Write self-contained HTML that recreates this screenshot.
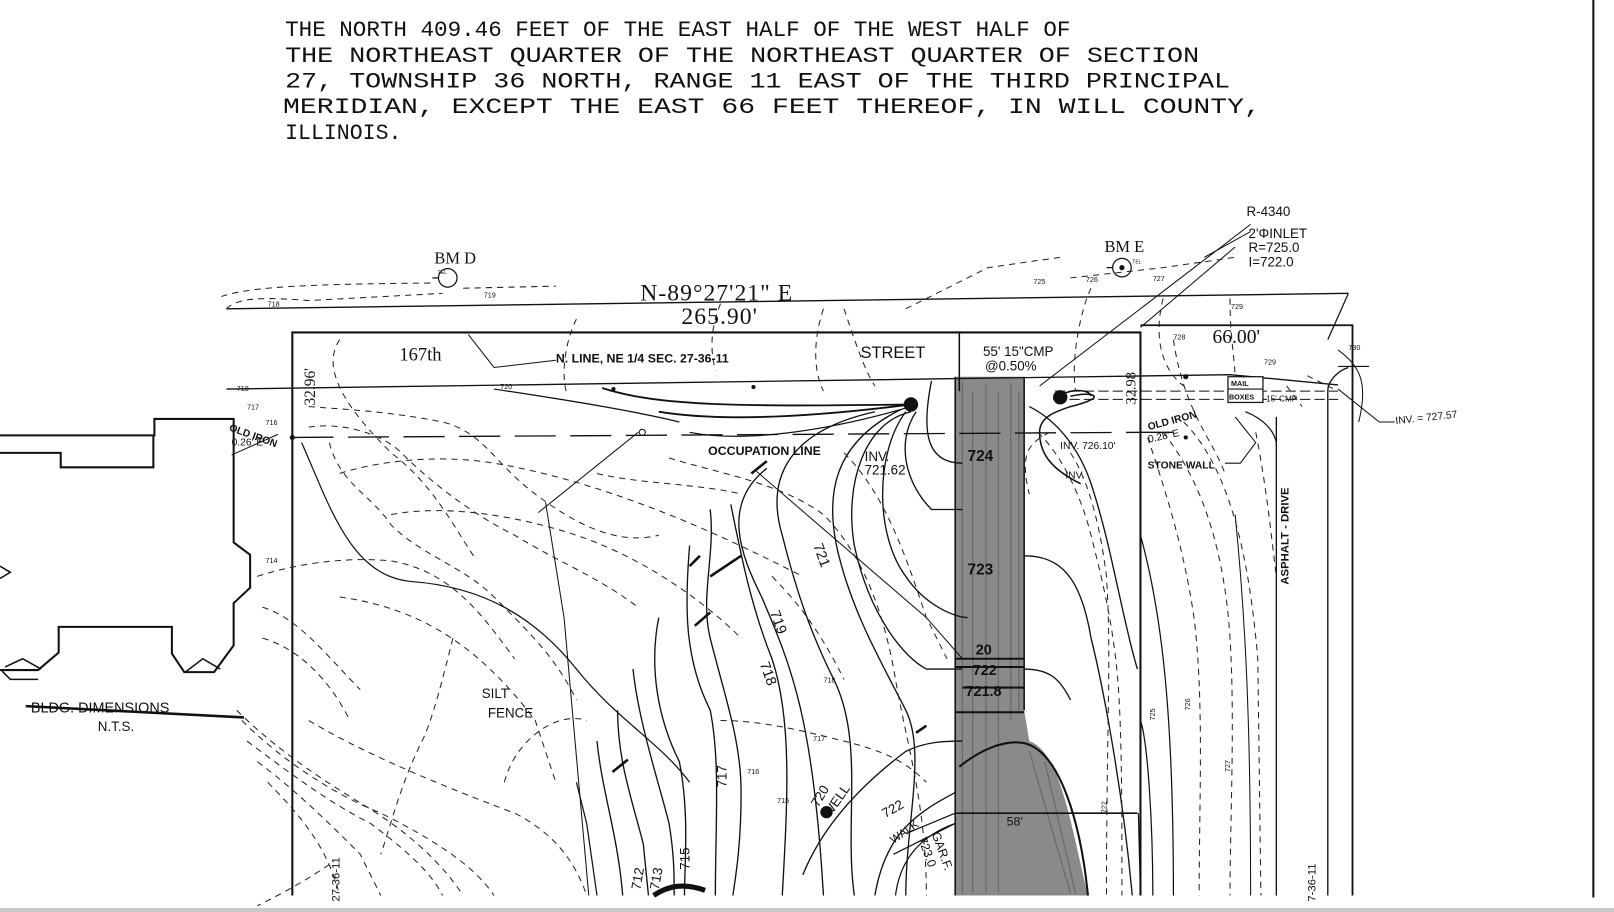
<!DOCTYPE html>
<html><head><meta charset="utf-8"><style>
html,body{margin:0;padding:0;background:#fff;}
svg{display:block;}
.t{font-family:"Liberation Serif",serif;fill:#111;}
.m{font-family:"Liberation Mono",monospace;fill:#111;}
.s{font-family:"Liberation Sans",sans-serif;fill:#111;}
.h{font-family:"Liberation Sans",sans-serif;fill:#111;font-weight:normal;}
</style></head><body>
<svg width="1614" height="912" viewBox="0 0 1614 912" xmlns="http://www.w3.org/2000/svg">
<rect x="0" y="0" width="1614" height="912" fill="#fff"/>
<rect x="0" y="908" width="1614" height="4" fill="#c8c8c8"/>
<g transform="scale(1.0293)">
<!-- title text -->
<g class="m" font-size="22">
<text x="277" y="35" textLength="763" lengthAdjust="spacingAndGlyphs">THE NORTH 409.46 FEET OF THE EAST HALF OF THE WEST HALF OF</text>
<text x="277" y="60" textLength="888" lengthAdjust="spacingAndGlyphs">THE NORTHEAST QUARTER OF THE NORTHEAST QUARTER OF SECTION</text>
<text x="277" y="85" textLength="918" lengthAdjust="spacingAndGlyphs">27, TOWNSHIP 36 NORTH, RANGE 11 EAST OF THE THIRD PRINCIPAL</text>
<text x="275" y="110" textLength="950" lengthAdjust="spacingAndGlyphs">MERIDIAN, EXCEPT THE EAST 66 FEET THEREOF, IN WILL COUNTY,</text>
<text x="277" y="135" textLength="113" lengthAdjust="spacingAndGlyphs">ILLINOIS.</text>
</g>
<line x1="1548" y1="0" x2="1548" y2="872" stroke="#111" stroke-width="2"/>

<path d="M928 366 L995 366 L995 690 L1000 720 C1030 730 1040 800 1057 870 L928 870 Z" fill="#8a8a8a"/>
<path d="M935 370 V868 M945 380 V868 M958 372 V868 M970 380 V868 M982 372 V700 M990 380 V690 M1000 730 L1040 868 M1015 740 L1045 868" stroke="#555" stroke-width="1.2" opacity="0.6"/>
<path d="M928 366 V870 M995 366 V690" stroke="#111" stroke-width="1.5" fill="none"/>
<path d="M932 745 C950 730 975 718 995 722 C1030 730 1050 800 1057 870" stroke="#111" stroke-width="2" fill="none"/>
<path d="M928 640 H995 M928 648 H995 M928 692 H995 M935 668 H995" stroke="#111" stroke-width="2"/>

<g stroke="#111" fill="none">
<path d="M284 870 V323 H1108 V870" stroke-width="2"/>
<path d="M1108 316 H1314 V870" stroke-width="1.8"/>
<path d="M220 300 L1310 285" stroke-width="1.3"/>
<path d="M220 378 L1195 364 M1195 364 L1300 374" stroke-width="1.3"/>
<path d="M1300 356 L1330 356 M1310 285 L1290 330" stroke-width="1.2"/>
<path d="M284 425 L1110 420" stroke-width="1.3" stroke-dasharray="40 14"/>
<path d="M1108 420 L1140 420" stroke-width="1.3"/>
<path d="M1025 380 H1300 M1025 388 H1300" stroke-width="1" stroke-dasharray="10 4"/>
<path d="M932 322 V380" stroke-width="1.5"/>
<path d="M928 790 H1105" stroke-width="1.6"/>
<path d="M1010 375 L1215 218" stroke-width="1"/>
<path d="M1108 318 L1200 240" stroke-width="1"/>
<path d="M735 458 L900 600 L935 640" stroke-width="1"/>
<path d="M530 488 L548 600 L572 870" stroke-width="1"/>
<path d="M523 498 L620 420" stroke-width="1"/>
<path d="M455 325 L480 357 L540 350" stroke-width="1"/>
<path d="M0 423 H150 V407 H227 V527 L243 539 V571 L227 586 V627 L208 653 H179 L167 635 V609 H57 V634 L37 651 H0" stroke-width="2"/>
<path d="M0 440 H59 V454 H149 V423" stroke-width="2"/>
<path d="M180 653 L197 640 L214 650 M5 648 L22 640 L40 650 M2 652 L10 660 L37 660" stroke-width="1.5"/>
<path d="M0 550 L10 556 L0 562" stroke-width="1.5"/>
<path d="M225 442 L270 422" stroke-width="1"/>
<path d="M25 686 L237 697" stroke-width="2.5"/>

<path d="M293 430 C320 490 340 560 400 565 C470 570 520 600 560 650 C600 700 640 720 670 760" stroke-width="1.2"/>
<path d="M585 377 C640 395 720 395 885 393" stroke-width="1.8"/>
<path d="M640 400 C700 410 790 405 885 393" stroke-width="1.8"/>
<path d="M670 420 C720 430 800 420 885 395" stroke-width="1.2"/>
<path d="M480 378 C560 390 620 400 660 410" stroke-width="1.2"/>
<path d="M850 400 C760 420 745 470 760 520 C775 580 790 620 810 660 C840 720 820 800 830 870" stroke-width="1.3"/>
<path d="M875 398 C810 430 800 480 815 540 C830 600 860 650 880 690 C900 730 880 800 880 870" stroke-width="1.3"/>
<path d="M880 400 C850 440 850 520 880 560 C900 590 930 600 940 600" stroke-width="1.3"/>
<path d="M890 400 C870 430 880 470 905 495 L935 495" stroke-width="1.3"/>
<path d="M905 370 C895 420 900 450 935 450" stroke-width="1.3"/>
<path d="M885 400 C840 410 820 470 830 530 C845 600 880 640 900 650 L935 650" stroke-width="1.3"/>
<path d="M745 455 C700 490 720 540 740 580 C770 650 790 700 800 870" stroke-width="1.3"/>
<path d="M710 490 C720 540 730 590 750 640 C770 700 765 780 760 870" stroke-width="1.3"/>
<path d="M690 495 C695 540 680 580 690 620 C705 680 720 720 720 770 C720 820 715 850 712 870" stroke-width="1.3"/>
<path d="M670 530 C665 590 665 640 690 690 C700 740 695 800 695 870" stroke-width="1.3"/>
<path d="M640 600 C630 650 640 700 660 740 C670 790 665 840 665 870" stroke-width="1.3"/>
<path d="M615 650 C620 700 640 760 650 800 C655 830 655 850 655 870" stroke-width="1.3"/>
<path d="M600 690 C600 740 615 780 625 820 L630 870" stroke-width="1.3"/>
<path d="M580 720 C585 770 600 810 605 870" stroke-width="1.3"/>
<path d="M560 760 L570 800 L580 870" stroke-width="1.2"/>
<path d="M780 850 C800 800 840 760 880 730 C900 720 920 720 935 720" stroke-width="1.3"/>
<path d="M850 870 C860 810 890 790 928 770" stroke-width="1.3"/>
<path d="M870 870 C875 830 900 810 928 800" stroke-width="1.2"/>
<path d="M868 830 L928 800 M880 810 L928 790" stroke-width="1.2"/>
<path d="M1000 395 C1030 410 1050 440 1060 470 C1080 530 1090 600 1105 650" stroke-width="1.3"/>
<path d="M995 540 C1030 540 1050 560 1060 620 C1070 660 1090 760 1100 870" stroke-width="1.3"/>
<path d="M995 650 C1020 650 1030 660 1040 680" stroke-width="1.3"/>
<path d="M1040 385 C1060 380 1080 385 1040 395 C1025 400 1010 405 1010 420 C1010 440 1020 455 1050 470" stroke-width="1.5"/>
<path d="M1030 384 C1045 376 1060 380 1060 385" stroke-width="1.5"/>
<path d="M1108 870 L1106 790" stroke-width="1.2"/>
<path d="M1120 870 C1120 800 1115 720 1108 700" stroke-width="1.2"/>
<path d="M1140 870 C1140 700 1130 600 1108 520" stroke-width="1.2"/>
<path d="M1215 870 C1215 700 1210 600 1200 500" stroke-width="1"/>
<path d="M1290 870 V380 C1290 370 1300 360 1310 357" stroke-width="1.3"/>
<path d="M1240 405 V870" stroke-width="1.3"/>
<path d="M1210 400 C1230 408 1238 420 1240 430" stroke-width="1.2"/>
<path d="M1300 340 C1320 355 1330 370 1320 410 M1300 378 L1340 410 L1355 410" stroke-width="1"/>
<path d="M1200 405 L1220 430 L1205 450 L1190 450" stroke-width="1"/>
<path d="M1170 250 L1215 225" stroke-width="1"/>
<path d="M635 870 C650 860 665 858 685 865" stroke-width="5"/>
<path d="M595 750 L610 738 M675 608 L690 595 M670 550 L680 540 M690 560 L720 540 M730 460 L745 448 M890 712 L900 705" stroke-width="2.5"/>
</g>

<g stroke="#222" fill="none" stroke-width="1" stroke-dasharray="6 5">
<path d="M215 288 C240 280 280 276 420 275"/>
<path d="M220 300 C230 290 250 288 300 292 L430 285"/>
<path d="M450 280 L540 278"/>
<path d="M300 395 C340 398 380 400 430 410 C470 420 480 450 520 480 C560 510 600 530 640 520"/>
<path d="M300 415 C330 410 370 420 390 440 C420 470 460 500 500 520 C550 550 580 560 620 590"/>
<path d="M320 430 C330 470 360 480 380 510 C410 540 450 550 480 580 C520 620 540 640 560 680"/>
<path d="M330 330 C310 360 340 400 380 440 C420 470 440 510 460 540"/>
<path d="M250 560 C280 550 330 540 380 545 C440 555 470 600 500 640"/>
<path d="M255 590 C290 600 320 640 350 670"/>
<path d="M255 620 C290 630 320 660 340 700"/>
<path d="M330 580 C400 590 460 620 520 700 L540 760"/>
<path d="M440 620 C430 660 420 700 410 720 C390 760 380 800 370 830"/>
<path d="M230 690 C260 720 300 750 350 780 C400 810 430 840 450 870"/>
<path d="M235 700 C270 735 320 770 370 790 C420 815 460 840 480 870"/>
<path d="M240 720 C280 750 320 780 360 800 C400 830 420 850 430 870"/>
<path d="M250 740 C290 770 320 800 350 830 L370 870"/>
<path d="M260 760 C300 800 320 830 330 870"/>
<path d="M300 700 C350 730 420 760 500 790 C540 810 560 840 570 870"/>
<path d="M320 840 C290 860 270 870 250 880"/>
<path d="M490 760 C500 720 540 690 570 700"/>
<path d="M330 460 C360 450 420 440 480 450 C540 460 600 480 650 500 C700 520 740 540 780 560"/>
<path d="M380 500 C430 490 500 500 560 520 C620 540 680 580 720 620"/>
<path d="M650 445 C700 460 760 470 800 500 C840 540 860 600 870 660 C880 720 900 780 900 870"/>
<path d="M820 440 C860 480 880 540 900 600 L920 640"/>
<path d="M700 700 C740 700 780 710 820 720 C860 730 880 740 900 760"/>
<path d="M750 560 C780 590 800 620 820 660"/>
<path d="M580 460 C620 470 680 470 720 480"/>
<path d="M820 300 C830 330 840 360 850 375"/>
<path d="M880 300 L960 260 L1030 250"/>
<path d="M1040 270 L1130 260 L1200 250"/>
<path d="M1060 280 C1050 300 1040 350 1045 380"/>
<path d="M1130 290 C1120 330 1130 360 1150 375"/>
<path d="M1195 290 C1195 330 1200 350 1200 370"/>
<path d="M1008 420 C1030 440 1050 480 1060 520 C1070 560 1080 600 1085 650 C1090 700 1090 780 1090 870"/>
<path d="M1040 440 C1060 470 1070 520 1075 560 C1080 640 1075 700 1075 870"/>
<path d="M1115 425 C1130 470 1150 530 1160 600 C1170 680 1165 780 1165 870"/>
<path d="M1130 420 C1170 470 1190 540 1195 620 C1200 700 1195 800 1195 870"/>
<path d="M1150 410 C1200 460 1215 560 1222 640 L1225 870"/>
<path d="M1140 330 C1150 400 1180 430 1190 460"/>
<path d="M1220 420 C1230 470 1235 520 1240 560"/>
<path d="M1270 365 L1300 380 M1250 375 L1265 395"/>
<path d="M1020 420 C1000 430 990 440 1000 480"/>
<path d="M800 300 C790 330 790 360 800 380"/>
<path d="M700 295 C690 320 690 340 695 360"/>
<path d="M560 310 C550 330 545 360 550 380"/>
</g>

<g fill="#111">
<circle cx="885" cy="393" r="7"/>
<circle cx="1030" cy="386" r="7"/>
<circle cx="803" cy="789" r="6"/>
<circle cx="732" cy="376" r="2"/>
<circle cx="596" cy="378" r="2"/>
<circle cx="1152" cy="366" r="2.5"/>
<circle cx="1152" cy="425" r="2"/>
<circle cx="284" cy="425" r="2.5"/>
<circle cx="624" cy="420" r="3" fill="none" stroke="#111"/>
</g>
<g stroke="#111" fill="none" stroke-width="1.2">
<circle cx="435" cy="270" r="9"/><path d="M420 270 H426"/>
<circle cx="1090" cy="260" r="9"/><path d="M1075 260 H1081"/>
</g>
<circle cx="1090" cy="260" r="2.5" fill="#111"/>
<rect x="1193" y="366" width="34" height="25" fill="#fff" stroke="#111" stroke-width="1.2"/>
<line x1="1193" y1="378" x2="1227" y2="378" stroke="#111"/>

<g class="t">
<text x="422" y="256" font-size="16">BM D</text>
<text x="1073" y="245" font-size="16">BM E</text>
<text x="622" y="292" font-size="23" letter-spacing="1">N-89°27'21" E</text>
<text x="662" y="315" font-size="23" letter-spacing="1">265.90'</text>
<text x="388" y="350" font-size="18">167th</text>
<text x="1178" y="333" font-size="19">66.00'</text>
<text x="0" y="0" font-size="15" transform="translate(306,394) rotate(-90)">32.96'</text>
<text x="0" y="0" font-size="14" transform="translate(1103,393) rotate(-90)">32.98</text>
</g>
<g class="s">
<text x="425" y="266" font-size="5">TEL</text>
<text x="1100" y="256" font-size="5">TEL</text>
<text x="540" y="352" font-size="12" font-weight="bold">N. LINE, NE 1/4 SEC. 27-36-11</text>
<text x="836" y="348" font-size="16">STREET</text>
<text x="688" y="442" font-size="12" font-weight="bold">OCCUPATION LINE</text>
<text x="0" y="0" font-size="10" font-weight="bold" transform="translate(222,418) rotate(20)">OLD IRON</text>
<text x="225" y="433" font-size="10">0.26' E</text>
<text x="0" y="0" font-size="10" font-weight="bold" transform="translate(1116,418) rotate(-15)">OLD IRON</text>
<text x="0" y="0" font-size="10" transform="translate(1116,430) rotate(-12)">0.28' E</text>
<text x="1115" y="455" font-size="10" font-weight="bold">STONE WALL</text>
<text x="1196" y="375" font-size="7" font-weight="bold">MAIL</text>
<text x="1194" y="388" font-size="7" font-weight="bold">BOXES</text>
<text x="1230" y="390" font-size="8">15' CMP</text>
<text x="0" y="0" font-size="10" transform="translate(1356,412) rotate(-6)">INV. = 727.57</text>
<text x="0" y="0" font-size="11" font-weight="bold" transform="translate(1252,568) rotate(-90)">ASPHALT - DRIVE</text>
<text x="0" y="0" font-size="11" transform="translate(1278,876) rotate(-90)">7-36-11</text>
<text x="0" y="0" font-size="11" transform="translate(330,876) rotate(-90)">27-36-11</text>
<text x="1030" y="436" font-size="10">INV. 726.10'</text>
<text x="1035" y="465" font-size="10">INV.</text>
</g>
<g class="h" font-size="13">
<text x="1211" y="210">R-4340</text>
<text x="1213" y="231">2'ΦINLET</text>
<text x="1213" y="245">R=725.0</text>
<text x="1213" y="259">I=722.0</text>
<text x="955" y="346">55' 15"CMP</text>
<text x="957" y="360">@0.50%</text>
<text x="840" y="448">INV.</text>
<text x="840" y="461">721.62</text>
<text x="30" y="692" font-size="14">BLDG. DIMENSIONS</text>
<text x="95" y="710">N.T.S.</text>
<text x="468" y="678">SILT</text>
<text x="474" y="697">FENCE</text>
<text x="940" y="448" font-size="15" font-weight="bold">724</text>
<text x="940" y="558" font-size="15" font-weight="bold">723</text>
<text x="948" y="636" font-size="14" font-weight="bold">20</text>
<text x="945" y="656" font-size="14" font-weight="bold">722</text>
<text x="938" y="676" font-size="14" font-weight="bold">721.8</text>
<text x="978" y="802" font-size="12">58'</text>
<text x="0" y="0" font-size="14" transform="translate(790,530) rotate(70)">721</text>
<text x="0" y="0" font-size="14" transform="translate(748,595) rotate(70)">719</text>
<text x="0" y="0" font-size="14" transform="translate(738,645) rotate(70)">718</text>
<text x="0" y="0" font-size="13" transform="translate(706,765) rotate(-90)">717</text>
<text x="0" y="0" font-size="13" transform="translate(670,845) rotate(-90)">715</text>
<text x="0" y="0" font-size="13" transform="translate(640,865) rotate(-80)">713</text>
<text x="0" y="0" font-size="13" transform="translate(622,865) rotate(-80)">712</text>
<text x="0" y="0" font-size="13" transform="translate(795,785) rotate(-60)">720</text>
<text x="0" y="0" font-size="13" transform="translate(806,795) rotate(-55)">WELL</text>
<text x="0" y="0" font-size="13" transform="translate(860,795) rotate(-30)">722</text>
<text x="0" y="0" font-size="11" transform="translate(868,820) rotate(-35)">WALK</text>
<text x="0" y="0" font-size="12" transform="translate(905,810) rotate(70)">GAR.F.</text>
<text x="0" y="0" font-size="12" transform="translate(892,815) rotate(70)">723.0</text>
</g>
<g class="s" font-size="7">
<text x="260" y="298">718</text><text x="470" y="289">719</text><text x="230" y="380">718</text>
<text x="240" y="398">717</text><text x="258" y="413">716</text><text x="258" y="547">714</text>
<text x="486" y="378">720</text><text x="800" y="663">718</text><text x="790" y="720">717</text>
<text x="726" y="752">716</text><text x="755" y="780">715</text><text x="1004" y="276">725</text>
<text x="1055" y="274">726</text><text x="1120" y="273">727</text><text x="1196" y="300">729</text>
<text x="1228" y="354">729</text><text x="1140" y="330">728</text><text x="1310" y="340">730</text>
<text x="0" y="0" transform="translate(1122,700) rotate(-90)">725</text>
<text x="0" y="0" transform="translate(1156,690) rotate(-90)">726</text>
<text x="0" y="0" transform="translate(1195,750) rotate(-90)">727</text>
<text x="0" y="0" transform="translate(1075,790) rotate(-90)">722</text>
</g>
</g>
</svg>
</body></html>
